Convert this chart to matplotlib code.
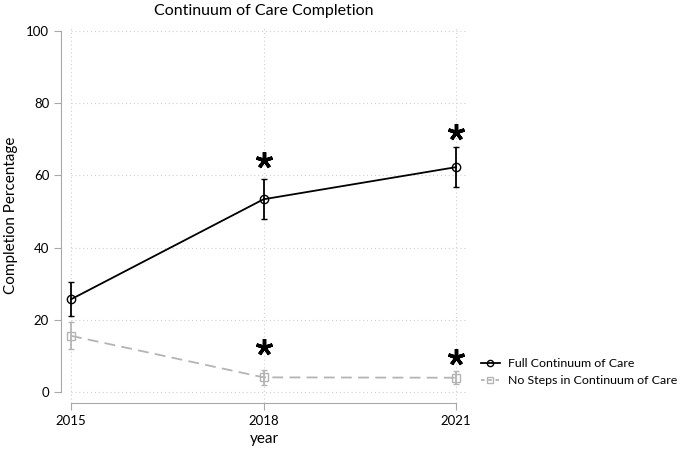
import numpy as np
import matplotlib.pyplot as plt
from matplotlib.lines import Line2D

plt.rcParams['font.family'] = ['Lato', 'DejaVu Sans']

years = [2015, 2018, 2021]
full_care = [25.7, 53.4, 62.3]
full_lo = [21.1, 47.9, 56.8]
full_hi = [30.4, 59.0, 67.8]
no_steps = [15.6, 4.1, 4.0]
no_lo = [11.9, 1.9, 2.2]
no_hi = [19.5, 6.1, 5.9]
star_years = [2018, 2021, 2018, 2021]
star_y = [64.3, 72.1, 12.4, 9.8]
yticks = [0, 20, 40, 60, 80, 100]

fig = plt.figure(figsize=(6.85, 4.51), dpi=100)
ax = fig.add_axes([0.089, 0.1064, 0.5927, 0.833])
ax.set_xlim(2014.844, 2021.17)
ax.set_ylim(-3, 101)

# dotted grid, stata style
gc = '#d0d0d0'
ax.hlines(yticks, 2015, 2021.17, colors=gc, linestyles=(0, (1, 2.5)), linewidth=0.8, zorder=0)
ax.vlines(years, -3, 101, colors=gc, linestyles=(0, (1, 2.5)), linewidth=0.8, zorder=0)

grey = '#b4b4b4'
ax.errorbar(years, no_steps, yerr=[np.subtract(no_steps, no_lo), np.subtract(no_hi, no_steps)],
            color=grey, ecolor=grey, linestyle=(0, (6, 3.5)), linewidth=1.3, marker='s',
            markersize=6, markerfacecolor='none', markeredgewidth=1.0, capsize=2.5, elinewidth=1.3,
            zorder=2)
ax.errorbar(years, full_care, yerr=[np.subtract(full_care, full_lo), np.subtract(full_hi, full_care)],
            color='black', ecolor='black', linewidth=1.3, marker='o', markersize=6,
            markerfacecolor='none', markeredgewidth=1.0, capsize=2.5, elinewidth=1.3,
            zorder=3)

# significance stars
ax.plot(star_years, star_y, linestyle='none', marker=(5, 2, 0), markersize=12,
        markeredgewidth=2.5, color='black', zorder=4)

for s in ['top', 'right']:
    ax.spines[s].set_visible(False)
sc = '#a8a8a8'
ax.spines['left'].set_bounds(0, 100)
ax.spines['bottom'].set_bounds(2015, 2021)
ax.spines['left'].set_color(sc)
ax.spines['bottom'].set_color(sc)
ax.tick_params(colors=sc, labelcolor='black', length=5, labelsize=9.5)
ax.set_yticks(yticks)
ax.set_xticks(years)

ax.set_ylabel('Completion Percentage', fontsize=11, labelpad=6)
ax.set_xlabel('year', fontsize=11, labelpad=4)
fig.text(0.385, 0.975, 'Continuum of Care Completion', ha='center', va='center', fontsize=11.5)

handles = [Line2D([], [], color='black', linewidth=1.3, marker='o', markersize=4.5,
                  markerfacecolor='none'),
           Line2D([], [], color=grey, linewidth=1.3, marker='s', markersize=4.5,
                  markerfacecolor='none', linestyle=(0, (2, 2)))]
fig.legend(handles, ['Full Continuum of Care', 'No Steps in Continuum of Care'],
           loc='center left', bbox_to_anchor=(0.686, 0.175), frameon=False,
           fontsize=8.9, handlelength=1.5, handletextpad=0.7, labelspacing=0.45)

fig.savefig('out.png', dpi=100)
